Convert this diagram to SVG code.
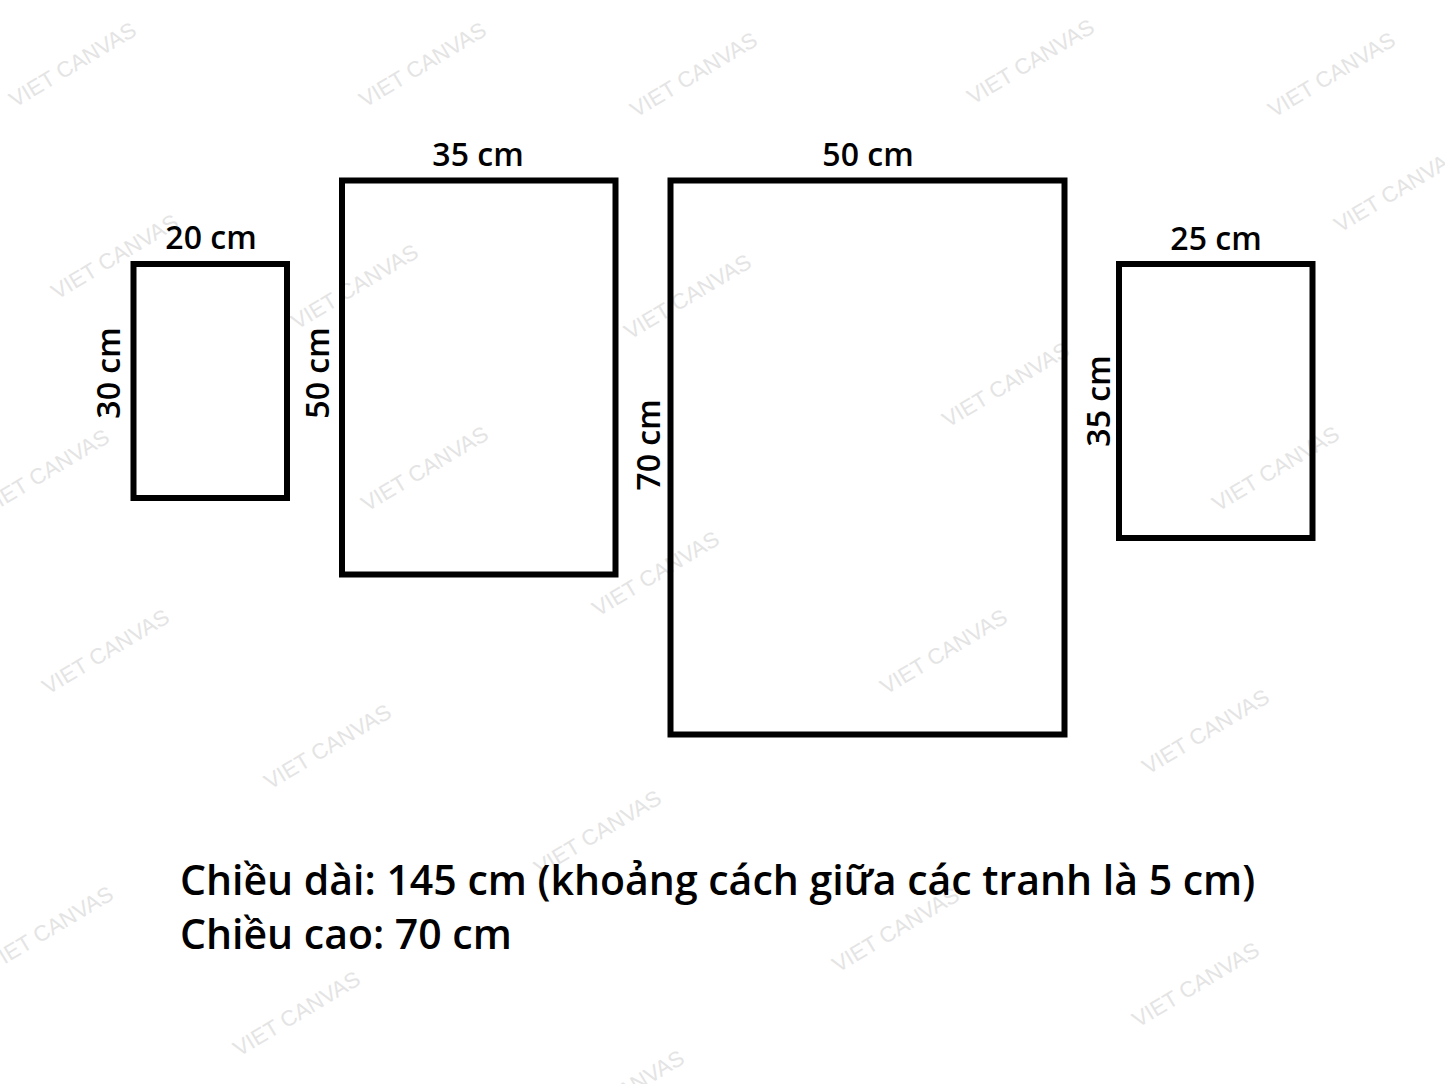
<svg xmlns="http://www.w3.org/2000/svg" width="1445" height="1084" viewBox="0 0 1445 1084">
<style>
.wm{font-family:"Liberation Sans",Arial,sans-serif;font-size:22px;fill:#e4e4e4}
.frame{fill:none;stroke:#000;stroke-width:6}
.lbl{font-family:"Open Sans","Noto Sans",sans-serif;font-size:32px;font-weight:600;fill:#000;text-anchor:middle}
.info{font-family:"Open Sans","Noto Sans",sans-serif;font-size:41px;font-weight:600;fill:#000}
</style>
<rect width="1445" height="1084" fill="#fff"/>
<g id="watermarks">
<text class="wm" transform="translate(15,108) rotate(-31)">VIET CANVAS</text>
<text class="wm" transform="translate(365,108) rotate(-31)">VIET CANVAS</text>
<text class="wm" transform="translate(636,118) rotate(-31)">VIET CANVAS</text>
<text class="wm" transform="translate(973,105) rotate(-31)">VIET CANVAS</text>
<text class="wm" transform="translate(1274,118) rotate(-31)">VIET CANVAS</text>
<text class="wm" transform="translate(1340,233) rotate(-31)">VIET CANVAS</text>
<text class="wm" transform="translate(57,300) rotate(-31)">VIET CANVAS</text>
<text class="wm" transform="translate(297,330) rotate(-31)">VIET CANVAS</text>
<text class="wm" transform="translate(630,340) rotate(-31)">VIET CANVAS</text>
<text class="wm" transform="translate(948,428) rotate(-31)">VIET CANVAS</text>
<text class="wm" transform="translate(-12,515) rotate(-31)">VIET CANVAS</text>
<text class="wm" transform="translate(367,512) rotate(-31)">VIET CANVAS</text>
<text class="wm" transform="translate(1218,512) rotate(-31)">VIET CANVAS</text>
<text class="wm" transform="translate(598,617) rotate(-31)">VIET CANVAS</text>
<text class="wm" transform="translate(48,695) rotate(-31)">VIET CANVAS</text>
<text class="wm" transform="translate(886,695) rotate(-31)">VIET CANVAS</text>
<text class="wm" transform="translate(270,790) rotate(-31)">VIET CANVAS</text>
<text class="wm" transform="translate(1148,775) rotate(-31)">VIET CANVAS</text>
<text class="wm" transform="translate(540,876) rotate(-31)">VIET CANVAS</text>
<text class="wm" transform="translate(-8,972) rotate(-31)">VIET CANVAS</text>
<text class="wm" transform="translate(838,973) rotate(-31)">VIET CANVAS</text>
<text class="wm" transform="translate(239,1057) rotate(-31)">VIET CANVAS</text>
<text class="wm" transform="translate(1138,1028) rotate(-31)">VIET CANVAS</text>
<text class="wm" transform="translate(563,1136) rotate(-31)">VIET CANVAS</text>
</g>
<g id="connectors"/>
<g id="panel-20x30">
<rect class="frame" x="133.5" y="264" width="153.5" height="234"/>
<text class="lbl" x="211" y="249">20 cm</text>
<text class="lbl" transform="translate(120,373) rotate(-90)">30 cm</text>
</g>
<g id="panel-35x50">
<rect class="frame" x="342" y="180.5" width="273.5" height="394"/>
<text class="lbl" x="478" y="166">35 cm</text>
<text class="lbl" transform="translate(329,373) rotate(-90)">50 cm</text>
</g>
<g id="panel-50x70">
<rect class="frame" x="670.5" y="180.5" width="394" height="554"/>
<text class="lbl" x="868" y="166">50 cm</text>
<text class="lbl" transform="translate(660,445) rotate(-90)">70 cm</text>
</g>
<g id="panel-25x35">
<rect class="frame" x="1119" y="264" width="193.5" height="274"/>
<text class="lbl" x="1216" y="250">25 cm</text>
<text class="lbl" transform="translate(1110,401) rotate(-90)">35 cm</text>
</g>
<g id="info">
<text class="info" x="180" y="895">Chiều dài: 145 cm (khoảng cách giữa các tranh là 5 cm)</text>
<text class="info" x="180" y="949">Chiều cao: 70 cm</text>
</g>
</svg>
